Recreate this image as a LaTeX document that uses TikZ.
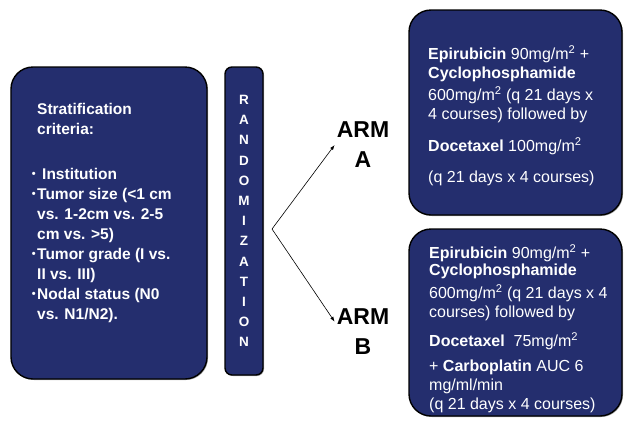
\documentclass[tikz,border=0pt]{standalone}
\usepackage{fontspec}
\setmainfont{Liberation Sans}
\usepackage{xcolor}
\usetikzlibrary{arrows.meta,shadows}

\definecolor{navybox}{RGB}{36,46,110}
\newcommand{\msq}{m\textsuperscript{2}}
\newcommand{\stratdot}{\llap{\raisebox{2bp}{\fontsize{11bp}{11bp}\selectfont\textbullet}\hspace{1.5bp}}}

\begin{document}
\begin{tikzpicture}[x=1bp,y=-1bp]
        \tikzset{panel/.style={draw=black,line width=1.4bp,fill=navybox,rounded corners=22bp,
                drop shadow={shadow xshift=1bp,shadow yshift=-1bp,opacity=0.35,fill=black}},
            paneltext/.style={text=white,inner sep=0pt,align=left,anchor=north west},
            armlabel/.style={font=\fontsize{23bp}{30bp}\selectfont\bfseries,align=center,inner sep=2bp},
            splitarrow/.style={-{Latex[length=5bp,width=3.5bp]},line width=0.6bp}}
        \path[use as bounding box,fill=white] (0,0) rectangle (624,423);

        % boxes
        \node[panel,minimum width=196bp,minimum height=312bp] (strat) at (109,223) {};
        \node[panel,rounded corners=7bp,minimum width=38bp,minimum height=308bp,
            text=white,align=center,font=\fontsize{13.5bp}{20.2bp}\selectfont\bfseries] (rand) at (244,221)
            {R\\A\\N\\D\\O\\M\\I\\Z\\A\\T\\I\\O\\N};
        \node[panel,minimum width=213bp,minimum height=205bp] (boxA) at (515.5,112.5) {};
        \node[panel,minimum width=213bp,minimum height=187bp] (boxB) at (515.5,322.5) {};

        % texts
        \node[paneltext,font=\fontsize{15.5bp}{20bp}\selectfont\bfseries] (stratlist) at (37,103.5)
            {Stratification\\criteria:\\[25bp]
             \stratdot\hspace{5bp}Institution\\
             \stratdot Tumor size (<1 cm\\vs. 1-2cm vs. 2-5\\cm vs. >5)\\
             \stratdot Tumor grade (I vs.\\II vs. III)\\
             \stratdot Nodal status (N0\\vs. N1/N2).};
        \node[paneltext,font=\fontsize{16bp}{19bp}\selectfont] (textA) at (428,45)
            {\textbf{Epirubicin} 90mg/\msq{} +\\\textbf{Cyclophosphamide}\\[3bp]
             600mg/\msq{} (q 21 days x\\4 courses) followed by\\[13bp]
             \textbf{Docetaxel} 100mg/\msq\\[12bp]
             (q 21 days x 4 courses)};
        \node[paneltext,font=\fontsize{16bp}{19bp}\selectfont] (textB) at (429,244)
            {\textbf{Epirubicin} 90mg/\msq{} +\\[-2bp]\textbf{Cyclophosphamide}\\[4bp]
             600mg/\msq{} (q 21 days x 4\\courses) followed by\\[10bp]
             \textbf{Docetaxel}\ \ 75mg/\msq\\[6bp]
             + \textbf{Carboplatin} AUC 6\\mg/ml/min\\(q 21 days x 4 courses)};

        \node[armlabel] (armA) at (363,145) {ARM\\A};
        \node[armlabel] (armB) at (363,332) {ARM\\B};

        % arrows
        \coordinate (fork) at (272,229);
        \draw[splitarrow] (fork) -- (armA.west);
        \draw[splitarrow] (fork) -- (armB.160);
    \end{tikzpicture}
\end{document}
